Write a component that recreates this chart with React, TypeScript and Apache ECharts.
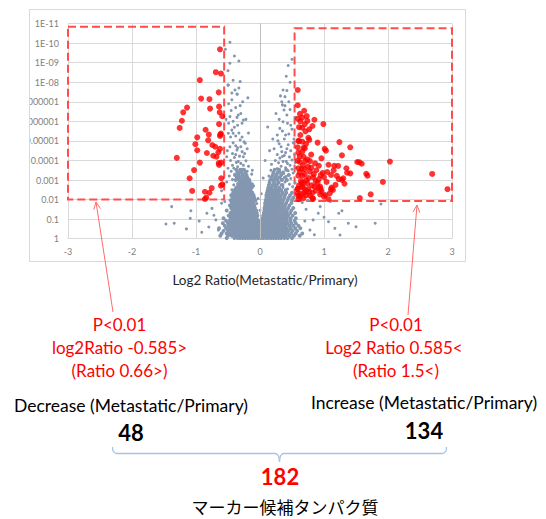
import React, { useEffect, useRef } from "react";
import * as echarts from "echarts";

// -log10(p) tick labels (Excel style, reversed log axis: 1 at bottom, 1E-11 at top)
const yTickLabels = ["1", "0.1", "0.01", "0.001", "0.0001", "0.00001", "0.000001", "0.0000001", "1E-08", "1E-09", "1E-10", "1E-11"];
const xTickLabels = ["-3", "-2", "-1", "0", "1", "2", "3"];

// Dense gray rows: [ -log10 p , log2 ratios ]
const grayDenseRows: [number, number[]][] = [
  [0.04, [-0.52, -0.4, -0.35, -0.31, -0.27, -0.23, -0.19, -0.15, -0.11, -0.07, -0.03, 0.01, 0.05, 0.09, 0.13, 0.17, 0.21, 0.25, 0.29, 0.33, 0.38, 0.43, 0.5]],
  [0.15, [-0.62, -0.5, -0.44, -0.39, -0.35, -0.3, -0.26, -0.22, -0.18, -0.14, -0.1, -0.06, -0.02, 0.02, 0.06, 0.1, 0.14, 0.18, 0.22, 0.26, 0.3, 0.35, 0.4, 0.46, 0.53, 0.62]],
  [0.27, [-0.6, -0.52, -0.47, -0.42, -0.37, -0.32, -0.28, -0.24, -0.2, -0.16, -0.12, -0.08, -0.04, 0, 0.04, 0.08, 0.12, 0.16, 0.2, 0.24, 0.28, 0.33, 0.38, 0.43, 0.49, 0.56, 0.66]],
  [0.4, [-0.57, -0.5, -0.45, -0.4, -0.35, -0.31, -0.27, -0.23, -0.19, -0.15, -0.11, -0.07, -0.03, 0.01, 0.05, 0.09, 0.13, 0.17, 0.21, 0.25, 0.3, 0.35, 0.4, 0.45, 0.51, 0.58]],
  [0.53, [-0.64, -0.53, -0.47, -0.42, -0.37, -0.33, -0.29, -0.25, -0.21, -0.17, -0.13, -0.09, -0.05, -0.01, 0.03, 0.07, 0.11, 0.15, 0.19, 0.23, 0.27, 0.32, 0.37, 0.42, 0.48, 0.55, 0.63]],
  [0.66, [-0.55, -0.49, -0.44, -0.39, -0.35, -0.31, -0.27, -0.23, -0.19, -0.15, -0.11, -0.07, -0.03, 0.01, 0.05, 0.09, 0.13, 0.17, 0.21, 0.25, 0.3, 0.35, 0.4, 0.46, 0.52, 0.6]],
  [0.79, [-0.58, -0.5, -0.45, -0.4, -0.36, -0.32, -0.28, -0.24, -0.2, -0.16, -0.12, -0.08, -0.04, 0.0, 0.04, 0.08, 0.12, 0.16, 0.2, 0.24, 0.28, 0.33, 0.38, 0.43, 0.49, 0.56]],
  [0.92, [-0.53, -0.47, -0.42, -0.38, -0.34, -0.3, -0.26, -0.22, -0.18, -0.14, -0.1, -0.06, -0.02, 0.03, 0.07, 0.11, 0.15, 0.19, 0.23, 0.27, 0.31, 0.36, 0.41, 0.47, 0.54]],
  [1.05, [-0.57, -0.46, -0.41, -0.37, -0.33, -0.29, -0.25, -0.21, -0.17, -0.13, -0.09, -0.05, 0.04, 0.08, 0.12, 0.16, 0.2, 0.24, 0.28, 0.32, 0.37, 0.42, 0.48, 0.56]],
  [1.18, [-0.49, -0.44, -0.4, -0.36, -0.32, -0.28, -0.24, -0.2, -0.16, -0.12, -0.08, -0.04, 0.05, 0.09, 0.13, 0.17, 0.21, 0.25, 0.29, 0.34, 0.39, 0.44, 0.51]],
  [1.31, [-0.46, -0.41, -0.37, -0.33, -0.29, -0.25, -0.21, -0.17, -0.13, -0.09, -0.05, 0.06, 0.1, 0.14, 0.18, 0.22, 0.26, 0.31, 0.36, 0.41, 0.47, 0.55]],
  [1.44, [-0.52, -0.43, -0.39, -0.35, -0.31, -0.27, -0.23, -0.19, -0.15, -0.11, -0.06, 0.07, 0.11, 0.15, 0.19, 0.23, 0.27, 0.32, 0.37, 0.42, 0.49]],
  [1.57, [-0.45, -0.41, -0.37, -0.33, -0.29, -0.25, -0.21, -0.17, -0.13, -0.08, 0.07, 0.11, 0.15, 0.19, 0.23, 0.28, 0.33, 0.38, 0.44, 0.52]],
  [1.7, [-0.47, -0.42, -0.38, -0.34, -0.3, -0.26, -0.22, -0.18, -0.14, -0.09, 0.08, 0.12, 0.16, 0.2, 0.24, 0.29, 0.34, 0.39, 0.46]],
  [1.83, [-0.44, -0.4, -0.36, -0.32, -0.28, -0.24, -0.2, -0.15, -0.1, 0.08, 0.12, 0.16, 0.2, 0.25, 0.3, 0.35, 0.41, 0.49]],
  [1.96, [-0.46, -0.41, -0.37, -0.33, -0.29, -0.25, -0.21, -0.17, -0.12, -0.07, 0.09, 0.13, 0.17, 0.21, 0.26, 0.31, 0.36, 0.43, 0.5]],
  [2.09, [-0.43, -0.39, -0.35, -0.31, -0.27, -0.23, -0.19, -0.14, -0.09, 0.1, 0.14, 0.18, 0.22, 0.27, 0.32, 0.38, 0.45, 0.52]],
  [2.22, [-0.45, -0.4, -0.36, -0.32, -0.28, -0.24, -0.2, -0.15, -0.1, 0.1, 0.14, 0.19, 0.23, 0.28, 0.33, 0.39, 0.47]],
  [2.35, [-0.42, -0.38, -0.34, -0.3, -0.26, -0.22, -0.17, -0.12, 0.11, 0.15, 0.2, 0.24, 0.29, 0.35, 0.41, 0.5]],
  [2.48, [-0.4, -0.35, -0.3, -0.25, -0.2, -0.15, 0.12, 0.17, 0.22, 0.27, 0.33, 0.4]],
  [2.61, [-0.37, -0.32, -0.27, -0.22, -0.17, -0.13, 0.13, 0.18, 0.24, 0.3]],
  [2.74, [-0.34, -0.29, -0.24, -0.19, -0.14, 0.14, 0.2, 0.26, 0.35]],
  [2.87, [-0.31, -0.26, -0.21, -0.16, 0.15, 0.22, 0.29]],
  [3.0, [-0.38, -0.33, -0.28, -0.23, -0.18, 0.16, 0.21, 0.27, 0.34, 0.42]],
  [3.13, [-0.36, -0.31, -0.25, -0.2, 0.18, 0.24, 0.31, 0.39]],
  [3.26, [-0.39, -0.33, -0.27, -0.21, 0.2, 0.26, 0.33, 0.45]],
  [3.39, [-0.35, -0.29, -0.23, 0.21, 0.28, 0.36]],
  [3.52, [-0.37, -0.31, -0.25, 0.23, 0.3, 0.41]],
];

// Scattered gray points: [log2 ratio, -log10 p]
const grayScatter: [number, number][] = [
  [-0.44, 2.5], [-0.38, 2.56], [-0.33, 2.48], [-0.27, 2.6], [-0.21, 2.52], [0.19, 2.5], [0.25, 2.58], [0.3, 2.47], [0.36, 2.62], [0.43, 2.54], [0.51, 2.66],
  [-0.41, 2.75], [-0.35, 2.82], [-0.29, 2.7], [-0.23, 2.88], [0.21, 2.72], [0.27, 2.8], [0.33, 2.76], [0.39, 2.9], [0.46, 2.78], [0.55, 2.86],
  [-0.43, 3.02], [-0.37, 3.1], [-0.3, 2.98], [-0.24, 3.15], [-0.17, 3.05], [0.23, 3.0], [0.29, 3.12], [0.35, 3.04], [0.41, 3.18], [0.48, 3.08],
  [-0.39, 3.3], [-0.33, 3.38], [-0.26, 3.25], [-0.2, 3.45], [0.25, 3.28], [0.31, 3.4], [0.37, 3.33], [0.44, 3.47], [0.52, 3.36],
  [-0.41, 3.6], [-0.35, 3.68], [-0.28, 3.55], [0.27, 3.58], [0.33, 3.7], [0.4, 3.62], [0.47, 3.75], [0.56, 3.64],
  [-0.37, 3.9], [-0.3, 3.85], [-0.22, 3.98], [0.29, 3.88], [0.36, 3.95], [0.43, 3.84], [0.5, 4.02],
  [-0.4, 4.15], [-0.32, 4.22], [0.31, 4.12], [0.38, 4.25], [0.46, 4.18], [0.54, 4.3],
  [-0.15, 2.55], [-0.12, 2.8], [-0.16, 3.0], [-0.13, 3.3], [0.13, 2.6], [0.15, 2.85], [0.14, 3.2], [0.17, 3.5], [-0.18, 3.7], [0.18, 3.8], [0.16, 2.45], [-0.14, 2.45],
  [-0.48, 3.2], [-0.45, 3.45], [-0.43, 3.75], [-0.34, 3.95], [-0.26, 3.75], [-0.46, 4.0], [-0.38, 4.3], [-0.24, 4.35], [-0.35, 4.65], [-0.42, 4.9],
  [-0.3, 4.7], [-0.28, 5.2], [-0.38, 5.25], [-0.44, 5.55], [-0.35, 5.8], [-0.49, 5.9], [-0.3, 6.4], [-0.42, 6.0], [-0.38, 6.7], [-0.49, 6.9],
  [-0.27, 7.0], [-0.33, 7.7], [-0.44, 7.45], [-0.2, 4.6], [-0.18, 5.4], [-0.51, 4.5], [-0.53, 6.1], [-0.29, 3.45],
  [0.55, 3.9], [0.5, 3.55], [0.41, 3.95], [0.24, 4.0], [0.27, 4.3], [0.35, 4.2], [0.4, 4.4], [0.48, 4.5], [0.22, 4.6], [0.33, 4.7],
  [0.44, 4.8], [0.53, 5.1], [0.28, 5.0], [0.4, 5.3], [0.35, 5.5], [0.5, 5.6], [0.43, 5.9], [0.3, 6.1], [0.55, 6.2], [0.39, 6.8],
  [0.47, 6.6], [0.32, 7.3], [0.2, 5.1], [0.15, 4.5], [0.41, 8.3], [0.47, 8.0],
  [-0.43, 4.35], [-0.28, 4.45], [-0.38, 4.75], [-0.25, 4.95], [-0.46, 5.2], [-0.33, 5.4], [-0.4, 5.7], [-0.28, 5.9], [-0.36, 6.2], [-0.45, 6.55],
  [-0.31, 6.8], [-0.44, 7.1], [-0.19, 7.2], [-0.36, 7.4], [-0.5, 7.85], [-0.42, 8.1], [-0.31, 8.03], [-0.47, 8.97], [-0.33, 9.08], [-0.4, 9.34],
  [-0.54, 9.68], [-0.47, 10.04], [-0.5, 8.59], [-0.26, 6.07], [-0.22, 6.1], [-0.34, 6.32], [-0.39, 7.6], [-0.355, 7.38], [-0.47, 6.24],
  [-0.495, 5.39], [-0.42, 5.39], [-0.31, 5.05], [-0.23, 4.88], [-0.47, 4.7], [-0.36, 4.53], [-0.52, 4.19], [-0.26, 4.19], [-0.495, 7.86],
  [0.34, 4.45], [0.42, 4.6], [0.3, 4.85], [0.38, 5.1], [0.45, 5.35], [0.31, 5.64], [0.36, 5.98], [0.12, 5.71], [0.42, 6.32], [0.375, 6.58],
  [0.35, 6.84], [0.45, 7.0], [0.34, 7.0], [0.39, 7.26], [0.42, 7.57], [0.36, 7.6], [0.44, 8.85], [0.5, 9.17], [0.25, 6.4], [0.48, 5.8], [0.52, 4.9], [0.27, 5.3],
  [-0.05, 1.8], [0.02, 2.3], [-0.1, 2.7], [0.05, 3.1], [-0.12, 3.5], [0.08, 4.0], [-0.55, 1.9], [-0.6, 2.45], [-0.52, 2.9], [-0.5, 3.6], [0.0, 1.45], [-0.03, 2.05],
  [-1.38, 1.64], [-1.47, 0.75], [-1.34, 0.79], [-1.08, 1.43], [-1.09, 1.04], [-0.91, 0.33], [-0.83, 1.3], [-0.75, 1.55], [-0.69, 0.96], [-0.65, 0.44],
  [-0.6, 1.81], [-0.8, 0.6], [-0.95, 0.9], [-0.72, 1.2], [-1.15, 0.5],
  [1.28, 1.43], [1.23, 1.3], [1.38, 0.79], [1.5, 0.61], [1.8, 0.79], [1.89, 1.77], [1.25, 0.19], [1.17, 0.53], [1.07, 0.87], [0.94, 1.64],
  [0.91, 1.3], [0.83, 0.96], [0.78, 0.44], [0.72, 1.5], [0.7, 0.9], [0.85, 0.2], [1.0, 1.1], [0.66, 1.85], [1.1, 1.9], [0.75, 1.95],
];

// Significantly decreased proteins (48): [log2 ratio, -log10 p]
const redDecrease: [number, number][] = [
  [-0.625, 9.68], [-0.69, 8.51], [-0.61, 8.44], [-0.94, 8.11], [-0.645, 7.48], [-0.92, 7.16], [-0.79, 7.13], [-1.14, 6.7], [-0.78, 6.65], [-0.64, 6.75],
  [-1.2, 6.46], [-0.63, 6.46], [-0.59, 6.26], [-1.22, 6.03], [-0.64, 5.86], [-1.255, 5.66], [-0.85, 5.57], [-0.61, 5.37], [-0.8, 5.32], [-0.625, 5.25],
  [-0.98, 5.18], [-0.81, 5.03], [-0.7, 4.7], [-1.01, 4.83], [-0.745, 4.79], [-0.98, 4.52], [-0.625, 4.59], [-0.83, 4.38], [-0.65, 4.42], [-0.73, 4.24],
  [-1.3, 4.13], [-0.68, 4.19], [-0.605, 3.89], [-0.94, 3.89], [-0.64, 3.77], [-1.03, 3.51], [-1.1, 3.09], [-0.605, 3.09], [-0.755, 2.59], [-0.59, 2.78],
  [-0.61, 2.71], [-1.06, 2.44], [-0.86, 2.4], [-0.79, 2.35], [-0.86, 2.03], [-0.84, 2.1], [-0.645, 3.87], [-0.62, 5.32],
];

// Significantly increased proteins (134): [log2 ratio, -log10 p]
const redIncrease: [number, number][] = [
  [0.59, 7.6], [0.59, 6.82], [0.625, 6.38], [0.69, 6.54], [0.73, 6.27], [0.85, 6.08], [0.66, 6.19], [0.59, 6.13], [0.74, 6.02], [0.61, 5.7],
  [0.66, 5.67], [0.82, 5.76], [0.77, 5.59], [0.71, 5.49], [0.99, 5.86], [0.755, 5.16], [0.61, 4.99], [0.66, 4.96], [0.9, 4.91], [1.24, 4.94],
  [0.68, 4.65], [0.59, 4.67], [1.01, 4.59], [1.03, 4.5], [1.41, 4.67], [1.28, 4.26], [0.62, 4.21], [0.68, 4.19], [0.96, 4.11], [0.78, 3.97],
  [0.71, 3.97], [0.59, 3.99], [0.625, 3.92], [1.07, 3.78], [1.16, 3.73], [1.22, 3.72], [1.52, 3.92], [1.55, 3.91], [1.59, 3.83], [2.03, 3.94],
  [0.92, 3.73], [0.75, 3.68], [0.65, 3.56], [0.78, 3.43], [1.05, 3.41], [0.98, 3.36], [1.11, 3.26], [1.2, 3.21], [1.35, 3.6], [1.36, 3.37],
  [1.41, 3.34], [1.66, 3.32], [1.68, 3.22], [2.69, 3.31], [0.66, 3.22], [0.6, 3.22], [0.83, 3.14], [1.0, 3.14], [1.28, 3.0], [1.23, 3.05],
  [1.32, 2.81], [1.92, 2.9], [0.68, 2.86], [0.74, 2.83], [0.81, 2.73], [0.85, 2.66], [0.91, 2.61], [0.95, 2.53], [0.61, 2.73], [0.59, 2.53],
  [0.68, 2.59], [0.72, 2.45], [0.77, 2.4], [0.96, 2.4], [0.94, 2.27], [1.09, 2.32], [1.11, 2.53], [1.0, 2.15], [1.07, 2.02], [0.83, 2.04],
  [0.68, 2.07], [0.625, 2.15], [0.59, 2.32], [0.6, 2.02], [1.56, 2.08], [1.73, 2.27], [2.93, 2.53], [0.7, 4.62], [0.8, 3.63], [0.7, 3.55],
  [1.3, 3.09], [0.72, 2.99], [0.87, 2.95], [0.65, 2.83], [0.94, 2.66], [1.12, 2.61], [1.14, 2.49], [0.59, 2.56], [0.755, 2.54], [0.64, 2.29],
  [0.72, 2.23], [1.02, 2.23], [0.82, 2.08], [0.62, 3.4], [0.7, 3.3], [0.76, 3.1], [0.64, 2.95], [0.88, 3.5], [0.92, 3.05], [0.6, 4.4],
  [0.66, 4.45], [0.72, 4.85], [0.63, 5.3], [0.8, 4.3], [0.86, 3.85], [0.6, 2.2], [0.78, 2.2], [0.9, 2.85], [0.63, 6.0], [0.7, 5.85],
  [0.6, 5.0], [0.74, 4.05], [0.67, 3.75], [0.84, 3.3], [1.04, 2.9], [0.69, 2.35], [0.87, 2.45], [1.18, 2.75], [0.6, 3.6], [0.77, 5.05],
  [0.95, 3.25], [1.15, 3.5], [0.82, 2.35], [0.66, 2.65],
];

// Threshold boxes (data coords): [xMin, yTop, xMax, yBottom]
const boxDecrease = [-3, 10.84, -0.56, 2];
const boxIncrease = [0.54, 10.76, 3, 1.93];

const FONT = "Lato, 'Noto Sans', sans-serif";
const JP_FONT = "'Noto Sans CJK JP', 'Noto Sans', sans-serif";

function arrowHead(x1: number, y1: number, x2: number, y2: number, len: number, deg: number): number[][] {
  const dx = x1 - x2, dy = y1 - y2;
  const l = Math.hypot(dx, dy);
  const ux = dx / l, uy = dy / l;
  const a = (deg * Math.PI) / 180;
  const c = Math.cos(a), s = Math.sin(a);
  const p1 = [x2 + len * (ux * c - uy * s), y2 + len * (ux * s + uy * c)];
  const p2 = [x2 + len * (ux * c + uy * s), y2 + len * (-ux * s + uy * c)];
  return [p1, [x2, y2], p2];
}

function txt(text: string, x: number, y: number, size: number, fill: string, weight = "normal", family = FONT) {
  return {
    type: "text",
    x,
    y,
    z: 120,
    style: {
      text,
      fill,
      font: `${weight} ${size}px ${family}`,
      align: "center",
      verticalAlign: "middle",
      textAlign: "center",
      textVerticalAlign: "middle",
    },
  };
}

export default function App() {
  const ref = useRef<HTMLDivElement>(null);

  useEffect(() => {
    const chart = echarts.init(ref.current!, null, { renderer: "svg" });

    const grayDense: [number, number][] = [];
    grayDenseRows.forEach(([v, xs]) => xs.forEach((x) => grayDense.push([x, v])));

    const arrowColor = "#ff6b6b";
    const leftArrow = { from: [113, 312], to: [96, 202] };
    const rightArrow = { from: [408, 315], to: [417, 205] };
    const braceColor = "#a9c3df";

    const option: any = {
      animation: false,
      backgroundColor: "#ffffff",
      grid: { left: 68, right: 94, top: 23.5, bottom: 280.3, containLabel: false },
      xAxis: {
        type: "value",
        min: -3,
        max: 3,
        interval: 1,
        axisLine: { show: true, lineStyle: { color: "#d9d9d9", width: 1 } },
        axisTick: { show: false },
        splitLine: { show: true, lineStyle: { color: "#d9d9d9", width: 1 } },
        axisLabel: {
          margin: 8,
          color: "#7f7f7f",
          fontSize: 9,
          fontFamily: FONT,
          formatter: (v: number) => xTickLabels[Math.round(v) + 3],
        },
      },
      yAxis: {
        type: "value",
        min: 0,
        max: 11,
        interval: 1,
        axisLine: { show: false },
        axisTick: { show: false },
        splitLine: { show: true, lineStyle: { color: "#d9d9d9", width: 1 } },
        axisLabel: {
          margin: 9,
          color: "#7f7f7f",
          fontSize: 9,
          fontFamily: FONT,
          formatter: (v: number) => yTickLabels[Math.round(v)],
        },
      },
      series: [
        {
          type: "scatter",
          name: "dense",
          data: grayDense,
          symbol: "circle",
          symbolSize: 4,
          clip: false,
          silent: true,
          itemStyle: { color: "#8497b0", opacity: 1 },
          markLine: {
            silent: true,
            symbol: "none",
            label: { show: false },
            lineStyle: { color: "#bfbfbf", type: "solid", width: 1 },
            data: [{ xAxis: 0 }],
          },
        },
        {
          type: "scatter",
          name: "sparse",
          data: grayScatter,
          symbol: "circle",
          symbolSize: 3,
          clip: false,
          silent: true,
          itemStyle: { color: "#8497b0", opacity: 1 },
        },
        {
          type: "scatter",
          name: "significant",
          data: [...redDecrease, ...redIncrease],
          symbol: "circle",
          symbolSize: 6,
          clip: false,
          silent: true,
          z: 3,
          itemStyle: { color: "#ff0000" },
          markArea: {
            silent: true,
            itemStyle: {
              color: "rgba(0,0,0,0)",
              borderColor: "#ff4d4d",
              borderWidth: 2,
              borderType: [8, 4],
            },
            label: { show: false },
            data: [
              [{ coord: [boxDecrease[0], boxDecrease[1]] }, { coord: [boxDecrease[2], boxDecrease[3]] }],
              [{ coord: [boxIncrease[0], boxIncrease[1]] }, { coord: [boxIncrease[2], boxIncrease[3]] }],
            ],
          },
        },
      ],
      graphic: [
        // mask: labels clipped by chart area
        { type: "rect", z: 110, shape: { x: 0, y: 0, width: 29, height: 263 }, style: { fill: "#ffffff" } },
        { type: "rect", z: 111, shape: { x: 29.5, y: 9.5, width: 436, height: 252 }, style: { fill: "none", stroke: "#d9d9d9", lineWidth: 1 } },
        // arrows
        { type: "line", z: 115, shape: { x1: leftArrow.from[0], y1: leftArrow.from[1], x2: leftArrow.to[0], y2: leftArrow.to[1] }, style: { stroke: arrowColor, lineWidth: 1 } },
        { type: "polyline", z: 115, shape: { points: arrowHead(leftArrow.from[0], leftArrow.from[1], leftArrow.to[0], leftArrow.to[1], 8, 25) }, style: { stroke: arrowColor, lineWidth: 1, fill: "none" } },
        { type: "line", z: 115, shape: { x1: rightArrow.from[0], y1: rightArrow.from[1], x2: rightArrow.to[0], y2: rightArrow.to[1] }, style: { stroke: arrowColor, lineWidth: 1 } },
        { type: "polyline", z: 115, shape: { points: arrowHead(rightArrow.from[0], rightArrow.from[1], rightArrow.to[0], rightArrow.to[1], 8, 25) }, style: { stroke: arrowColor, lineWidth: 1, fill: "none" } },
        // brace
        {
          type: "polyline",
          z: 115,
          shape: { points: [[112.5, 447], [113, 451], [116.5, 453.5], [275.5, 453.5], [278.5, 456], [279.5, 462]], smooth: 0.2 },
          style: { stroke: braceColor, lineWidth: 1.3, fill: "none" },
        },
        {
          type: "polyline",
          z: 115,
          shape: { points: [[279.5, 462], [280.5, 456], [283.5, 453.5], [442.5, 453.5], [446, 451], [446.5, 447]], smooth: 0.2 },
          style: { stroke: braceColor, lineWidth: 1.3, fill: "none" },
        },
        // texts
        txt("Log2 Ratio(Metastatic/Primary)", 265, 279.5, 13.5, "#262626"),
        txt("P<0.01", 119.5, 324.3, 17, "#ff0000"),
        txt("log2Ratio -0.585>", 119.5, 347.3, 17, "#ff0000"),
        txt("(Ratio 0.66>)", 119.5, 370, 17, "#ff0000"),
        txt("P<0.01", 396, 324, 17, "#ff0000"),
        txt("Log2 Ratio 0.585<", 394, 347, 17, "#ff0000"),
        txt("(Ratio 1.5<)", 396, 370, 17, "#ff0000"),
        txt("Decrease (Metastatic/Primary)", 131, 405.7, 17.5, "#000000"),
        txt("Increase (Metastatic/Primary)", 424, 402.7, 17.5, "#000000"),
        txt(String(redDecrease.length), 131, 432, 22, "#000000", "bold"),
        txt(String(redIncrease.length), 424, 430, 22, "#000000", "bold"),
        txt(String(redDecrease.length + redIncrease.length), 280, 476.7, 22, "#ff0000", "bold"),
        txt("マーカー候補タンパク質", 285, 506.5, 17, "#000000", "normal", JP_FONT),
      ],
    };

    chart.setOption(option);
    return () => chart.dispose();
  }, []);

  return (
    <div
      ref={ref}
      style={{ position: "fixed", left: 0, top: 0, width: 546, height: 519, background: "#ffffff" }}
    />
  );
}
